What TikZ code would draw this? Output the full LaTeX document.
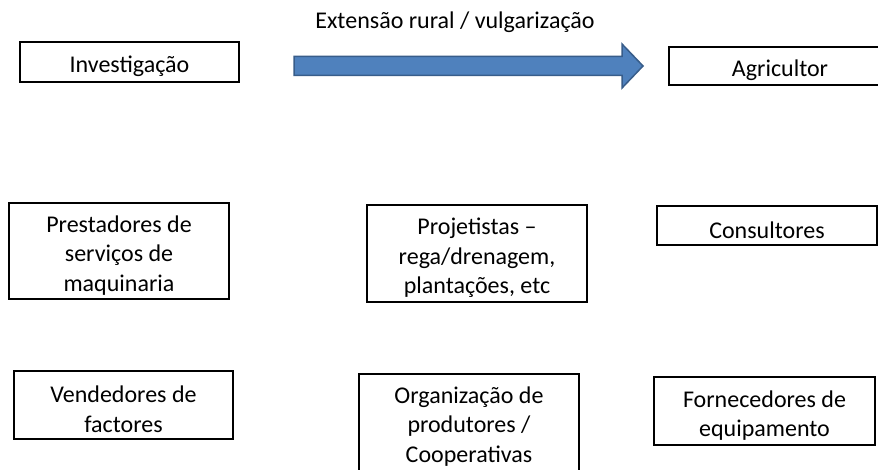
\documentclass[tikz,border=0pt]{standalone}
\usepackage{fontspec}
\setmainfont{Carlito}
\definecolor{arrowfill}{HTML}{4F81BD}
\definecolor{arrowline}{HTML}{385D8A}
\begin{document}
\begin{tikzpicture}[x=1pt,y=-1pt,
    box/.style={draw=black,line width=1.2pt,inner sep=0pt},
    boxtext/.style={align=center,inner sep=0pt,yshift=-4.5pt,
      font=\fontsize{24}{29.5}\selectfont},
    blockarrow/.style={fill=arrowfill,draw=arrowline,line width=1.5pt,line join=miter}]%
        \clip (0,0) rectangle (878,470);
        \fill[white] (0,0) rectangle (878,470);
        % top row
        \node[box,minimum width=219pt,minimum height=40pt,
          label={[boxtext]center:Investigação}] (inv) at (129.5,62) {};
        \node[box,minimum width=222pt,minimum height=38pt,
          label={[boxtext]center:Agricultor}] (agr) at (780,66) {};
        \coordinate (a0) at (294,66);
        \coordinate (a1) at (643,66);
        \draw[blockarrow] ([yshift=-9.5pt]a0) -- ([xshift=-21pt,yshift=-9.5pt]a1)
 -- ([xshift=-21pt,yshift=-22pt]a1) -- (a1) -- ([xshift=-21pt,yshift=22pt]a1)
 -- ([xshift=-21pt,yshift=9.5pt]a1) -- ([yshift=9.5pt]a0) -- cycle;
        \node[font=\fontsize{24}{29}\selectfont] (ext) at (455,22) {Extensão rural / vulgarização};
        % middle row
        \node[box,minimum width=220pt,minimum height=96pt,
          label={[boxtext]center:Prestadores de\\serviços de\\maquinaria}] (pre) at (119,251) {};
        \node[box,minimum width=220pt,minimum height=97pt,
          label={[boxtext]center:Projetistas –\\rega/drenagem,\\plantações, etc}] (pro) at (477,253.5) {};
        \node[box,minimum width=220pt,minimum height=39pt,
          label={[boxtext]center:Consultores}] (con) at (767,225.5) {};
        % bottom row
        \node[box,minimum width=219pt,minimum height=68pt,
          label={[boxtext]center:Vendedores de\\factores}] (ven) at (123.5,405) {};
        \node[box,minimum width=220pt,minimum height=104pt,
          label={[boxtext,yshift=4pt]center:Organização de\\produtores /\\Cooperativas}] (org) at (469,426) {};
        \node[box,minimum width=221pt,minimum height=68pt,
          label={[boxtext]center:Fornecedores de\\equipamento}] (for) at (764.5,411) {};
\end{tikzpicture}
\end{document}
